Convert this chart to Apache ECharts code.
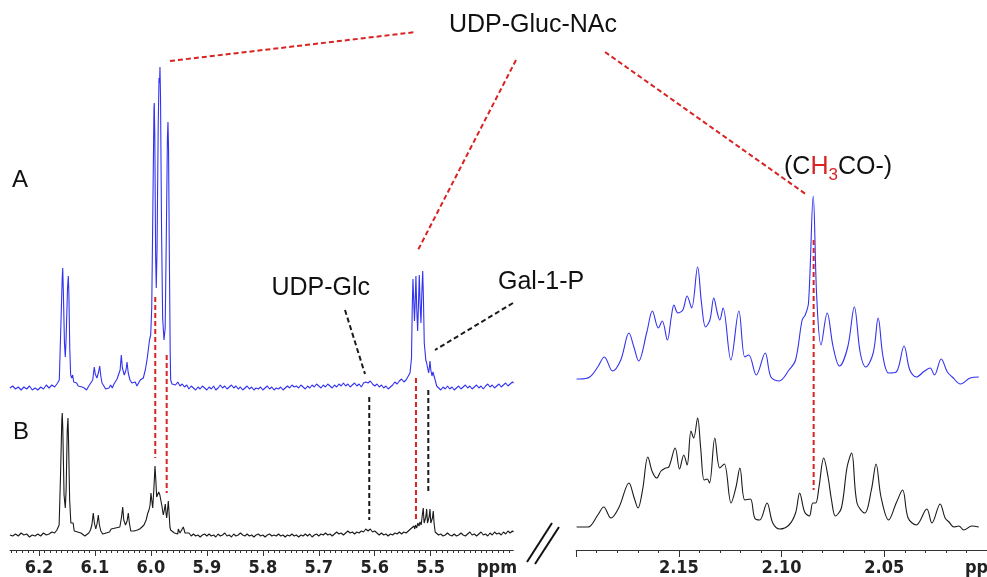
<!DOCTYPE html>
<html>
<head>
<meta charset="utf-8">
<script src="https://cdn.jsdelivr.net/npm/echarts@6/dist/echarts.min.js"></script>
<style>
html,body{margin:0;padding:0;background:#fff;}
#chart{width:987px;height:577px;}
</style>
</head>
<body>
<div id="chart"></div>
<script>
// ---------------- DATA ----------------
const leftTickLabels = [6.2, 6.1, 6.0, 5.9, 5.8, 5.7, 5.6, 5.5];
const rightTickLabels = [2.15, 2.10, 2.05];
const unitLabel = 'ppm';
const traceNames = ['A', 'B'];
const compoundLabels = ['UDP-Gluc-NAc', 'UDP-Glc', 'Gal-1-P'];

// trace A (blue), left window, [ppm, intensity]
const specA_left = [
[6.252,0],[6.247,2],[6.242,-1],[6.237,1],[6.232,-2],[6.227,1],[6.222,-1],[6.217,2],[6.212,-2],[6.207,0],[6.202,-2],[6.197,1],[6.192,-1],[6.187,3],[6.182,0],[6.177,3],[6.172,1],[6.168,4],
[6.1637,8],[6.1610,60],[6.1585,110],[6.1576,120],[6.1566,100],[6.1545,45],[6.1530,31],[6.1515,50],[6.1490,100],[6.1476,112],[6.1466,95],[6.1450,40],[6.1434,13],[6.1415,10],[6.1398,13],[6.1380,6],[6.1350,4],[6.1326,5],[6.1300,2],[6.127,3],[6.123,1],[6.119,0],[6.115,-2],[6.111,2],[6.108,4],
[6.1040,8],[6.1012,21],[6.0995,14],[6.0964,10],[6.0935,16],[6.0915,22],[6.0895,12],[6.0874,5],[6.084,2],[6.081,-1],[6.078,-3],[6.075,0],[6.072,3],[6.069,0],[6.066,4],[6.063,6],[6.0605,9],
[6.0550,18],[6.0529,33],[6.0510,20],[6.0476,13],[6.0445,18],[6.0427,26],[6.0405,15],[6.0374,8],[6.034,5],[6.031,3],[6.028,6],[6.025,2],[6.022,5],[6.019,8],[6.016,6],[6.0136,10],[6.010,18],[6.0070,28],[6.0047,38],[6.0025,48],[6.0004,53],
[5.9985,80],[5.9965,180],[5.9945,280],[5.9940,285],[5.9930,250],[5.9915,130],[5.9904,100],[5.9890,140],[5.9870,260],[5.9855,310],[5.9845,305],[5.9838,321],[5.9828,290],[5.9810,160],[5.9790,70],[5.9766,48],[5.9745,60],[5.9725,150],[5.9705,250],[5.9695,266],[5.9685,240],[5.9670,130],[5.9655,35],[5.9647,8],[5.9623,4],
[5.960,5],[5.956,3],[5.952,6],[5.948,2],[5.944,4],[5.940,1],[5.936,3],[5.932,-1],[5.928,2],[5.924,0],[5.920,-2],[5.916,1],[5.912,-1],[5.908,2],[5.904,0],[5.900,-2],[5.896,1],[5.892,-1],[5.888,2],[5.884,-2],[5.880,0],[5.876,3],[5.872,0],[5.868,2],[5.864,-1],[5.860,1],[5.856,3],[5.852,0],[5.848,2],[5.844,-1],[5.840,1],[5.836,-2],[5.832,0],[5.828,2],[5.824,-1],[5.820,1],[5.816,-2],[5.812,0],[5.808,-1],[5.804,1],[5.800,-2],[5.796,0],[5.792,2],[5.788,-1],[5.784,1],[5.780,-2],[5.776,0],[5.772,-1],[5.768,1],[5.764,-2],[5.760,0],[5.756,2],[5.752,0],[5.748,3],[5.744,1],[5.740,2],[5.736,0],[5.732,3],[5.728,1],[5.724,-1],[5.720,2],[5.716,0],[5.712,3],[5.708,1],[5.704,4],[5.700,2],[5.696,0],[5.692,3],[5.688,1],[5.684,4],[5.680,2],[5.676,0],[5.672,3],[5.668,1],[5.664,4],[5.660,2],[5.656,5],[5.652,2],[5.648,4],[5.644,1],[5.640,3],[5.636,5],[5.632,2],[5.628,4],[5.624,1],[5.620,5],[5.616,6],[5.612,5],[5.608,7],[5.604,4],[5.600,2],[5.596,4],[5.592,1],[5.588,3],[5.584,0],[5.580,2],[5.576,-1],[5.572,1],[5.568,3],[5.564,6],[5.560,4],[5.556,7],[5.552,9],[5.548,6],[5.544,8],[5.540,12],[5.537,15],
[5.5343,30],[5.5330,80],[5.5317,109],[5.5305,90],[5.5290,67],[5.5278,85],[5.5264,112],[5.5250,80],[5.5233,57],[5.5218,85],[5.5204,113],[5.5190,85],[5.5174,65],[5.5158,95],[5.5143,117],[5.5130,90],[5.5115,45],[5.5102,37],[5.5088,28],[5.5072,25],[5.5055,20],[5.5036,15],[5.5025,20],[5.5013,27],[5.4998,18],[5.4977,12],[5.4960,16],[5.4941,18],[5.4920,8],[5.4893,2],
[5.486,0],[5.482,-2],[5.478,1],[5.474,-1],[5.470,2],[5.466,-1],[5.462,1],[5.458,-2],[5.454,0],[5.450,2],[5.446,-1],[5.442,1],[5.438,3],[5.434,0],[5.430,2],[5.426,-1],[5.422,1],[5.418,3],[5.414,0],[5.410,2],[5.406,-1],[5.402,2],[5.398,4],[5.394,1],[5.390,3],[5.386,0],[5.382,2],[5.378,4],[5.374,1],[5.370,3],[5.366,5],[5.362,2],[5.358,4],[5.354,6],[5.352,5]
];

// trace B (black), left window
const specB_left = [
[6.252,0],[6.247,-1],[6.242,1],[6.237,-1],[6.232,2],[6.227,0],[6.222,1],[6.217,-2],[6.212,0],[6.207,-1],[6.202,1],[6.197,-1],[6.192,2],[6.187,0],[6.182,1],[6.177,3],[6.172,2],[6.168,5],
[6.1640,10],[6.1615,60],[6.1592,115],[6.1584,122],[6.1574,105],[6.1552,40],[6.1530,27],[6.1515,45],[6.1495,105],[6.1482,117],[6.1472,95],[6.1452,35],[6.1430,12],[6.1405,14],[6.1390,12],[6.1370,4],[6.134,2],[6.131,3],[6.128,5],[6.125,2],[6.122,1],[6.118,-1],[6.115,0],[6.111,2],[6.108,5],
[6.1055,10],[6.1030,22],[6.1010,12],[6.0985,6],[6.0960,12],[6.0940,20],[6.0920,10],[6.0895,4],[6.086,1],[6.083,-1],[6.080,2],[6.077,0],[6.074,3],[6.071,6],[6.068,4],
[6.0555,8],[6.0525,18],[6.0504,28],[6.0485,15],[6.0454,10],[6.0425,14],[6.0404,22],[6.0385,12],[6.0360,4],[6.033,2],[6.030,4],[6.027,2],[6.024,5],
[6.020,6],[6.016,8],[6.0124,10],[6.0085,15],[6.0055,22],[6.0034,25],[6.0015,30],[5.9999,42],[5.9985,35],[5.9968,27],[5.9948,45],[5.9927,69],[5.9912,55],[5.9897,38],[5.9880,40],[5.9861,43],[5.9840,40],[5.9820,38],[5.9800,28],[5.9779,20],[5.9760,25],[5.9743,31],[5.9730,22],[5.9718,17],[5.9703,25],[5.9689,34],[5.9675,22],[5.9660,8],[5.9647,5],[5.962,3],[5.958,2],[5.955,4],[5.952,1],[5.9511,6],[5.948,2],[5.945,3],[5.9421,8],[5.939,2],[5.936,0],
[5.932,2],[5.928,-1],[5.924,1],[5.920,-1],[5.916,0],[5.912,-2],[5.908,0],[5.904,1],[5.900,-1],[5.896,1],[5.892,-1],[5.888,0],[5.884,-2],[5.880,1],[5.876,-1],[5.872,0],[5.868,2],[5.864,-1],[5.860,0],[5.856,-2],[5.852,1],[5.848,-1],[5.844,0],[5.840,2],[5.836,0],[5.832,-1],[5.828,1],[5.824,-1],[5.820,0],[5.816,-2],[5.812,0],[5.808,1],[5.804,-1],[5.800,0],[5.796,-2],[5.792,0],[5.788,1],[5.784,-1],[5.780,0],[5.776,-1],[5.772,1],[5.768,-1],[5.764,0],[5.760,-2],[5.756,0],[5.752,-1],[5.748,1],[5.744,-1],[5.740,0],[5.736,-2],[5.732,0],[5.728,-1],[5.724,1],[5.720,-1],[5.716,1],[5.712,-2],[5.708,0],[5.704,1],[5.700,-1],[5.696,1],[5.692,0],[5.688,2],[5.684,0],[5.680,1],[5.676,-1],[5.672,1],[5.668,3],[5.664,1],[5.660,2],[5.656,0],[5.652,2],[5.648,4],[5.644,2],[5.640,3],[5.636,1],[5.632,3],[5.628,2],[5.624,4],[5.620,3],[5.616,6],[5.612,4],[5.608,6],[5.604,3],[5.600,4],[5.596,2],[5.592,0],[5.588,2],[5.584,0],[5.580,1],[5.576,-1],[5.572,1],[5.568,0],[5.564,2],[5.560,1],[5.556,3],[5.552,1],[5.548,3],[5.544,2],[5.540,4],[5.536,6],[5.533,5],[5.530,9],[5.5285,6],[5.527,10],[5.525,7],[5.523,12],[5.521,9],[5.519,13],[5.517,10],
[5.5150,20],[5.5133,27],[5.5118,12],[5.5102,10],[5.5087,18],[5.5072,26],[5.5057,12],[5.5043,10],[5.5028,18],[5.5013,26],[5.4998,12],[5.4984,10],[5.4969,17],[5.4954,24],[5.4940,12],[5.4920,3],[5.4893,2],
[5.486,0],[5.482,1],[5.478,-1],[5.474,0],[5.470,2],[5.466,0],[5.462,-1],[5.458,1],[5.454,-1],[5.450,0],[5.446,2],[5.442,0],[5.438,-1],[5.434,1],[5.430,3],[5.426,0],[5.422,1],[5.418,-1],[5.414,1],[5.410,3],[5.406,0],[5.402,1],[5.398,-1],[5.394,2],[5.390,0],[5.386,3],[5.382,1],[5.378,2],[5.374,0],[5.370,3],[5.366,1],[5.362,4],[5.358,2],[5.354,4],[5.352,3]
];

// trace A (blue), right window (acetyl region)
const specA_right = [
[2.1998,9],[2.1982,9],[2.1934,11],[2.1895,21],[2.1863,31],[2.1823,17],[2.1783,28],[2.1743,55],[2.1719,41],[2.1696,27],[2.1656,56],[2.1629,77],[2.1600,60],[2.1581,67],[2.1556,48],[2.1537,71],[2.1524,83],[2.1505,75],[2.1481,78],[2.1460,92],[2.1438,80],[2.1409,121],[2.1390,85],[2.1370,61],[2.1349,68],[2.1330,90],[2.1314,76],[2.1301,68],[2.1285,80],[2.1247,28],[2.1208,77],[2.1179,31],[2.1160,33],[2.1123,13],[2.1080,35],[2.1052,11],[2.1012,7],[2.0964,18],[2.0932,28],[2.0900,68],[2.0885,73],[2.0869,85],[2.0846,192],[2.0829,91],[2.0808,43],[2.0778,75],[2.0749,41],[2.0718,22],[2.0678,41],[2.0646,81],[2.0617,35],[2.0590,21],[2.0554,35],[2.0530,70],[2.0506,31],[2.0479,15],[2.0442,16],[2.0404,42],[2.0376,18],[2.0344,11],[2.0304,17],[2.0277,20],[2.0256,13],[2.0223,29],[2.0193,16],[2.0169,11],[2.0129,4],[2.0082,10],[2.0040,11]
];

// trace B (black), right window
const specB_right = [
[2.1998,8],[2.1982,8],[2.1942,8],[2.1895,20],[2.1866,28],[2.1831,17],[2.1791,28],[2.1743,52],[2.1719,38],[2.1699,27],[2.1677,45],[2.1651,78],[2.1629,63],[2.1608,57],[2.1587,64],[2.1565,67],[2.1549,68],[2.1518,87],[2.1497,66],[2.1476,80],[2.1460,70],[2.1441,104],[2.1428,97],[2.1409,117],[2.1394,87],[2.1377,55],[2.1362,56],[2.1351,52],[2.1325,97],[2.1301,67],[2.1279,71],[2.1246,32],[2.1222,48],[2.1203,67],[2.1179,35],[2.1152,36],[2.1131,17],[2.1107,15],[2.1071,32],[2.1043,12],[2.1009,6],[2.0964,10],[2.0932,22],[2.0912,42],[2.0888,23],[2.0865,19],[2.0848,32],[2.0834,32],[2.0818,48],[2.0795,77],[2.0773,57],[2.0757,35],[2.0738,19],[2.0709,27],[2.0681,68],[2.0659,82],[2.0633,32],[2.0595,22],[2.0563,45],[2.0540,71],[2.0516,38],[2.0479,15],[2.0442,32],[2.0411,45],[2.0384,17],[2.0344,10],[2.0293,26],[2.0268,12],[2.0228,31],[2.0204,17],[2.0185,13],[2.0161,8],[2.0137,9],[2.0113,5],[2.0074,9],[2.0040,8]
];

// ---------------- LAYOUT / STYLE ----------------
const PLOT_H = 550;          // grid height in px, y axis 0..PLOT_H
const OFFSET_A = 162;        // vertical offset of trace A
const OFFSET_B = 15;         // vertical offset of trace B
const BLUE = '#3232f0';
const RED = '#d92323';
const INK = '#1a1a1a';
const tickFont = '"Liberation Sans Narrow","DejaVu Sans Condensed","Liberation Sans",Arial,sans-serif';
const textFont = '"Liberation Sans",Arial,Helvetica,sans-serif';

const LEFT_RANGE = [5.3524, 6.2518];
const RIGHT_RANGE = [2.0, 2.2];

function minorTicks(lo, hi, step) {
  const out = [];
  const n0 = Math.ceil(lo / step - 1e-9), n1 = Math.floor(hi / step + 1e-9);
  for (let n = n0; n <= n1; n++) out.push(+(n * step).toFixed(4));
  return out;
}

// vertical dashed connectors [grid, ppm, yFrom, yTo, color]
const connectors = [
  [0, 5.9922, 253, 92, RED],
  [0, 5.9718, 195, 57, RED],
  [0, 5.6098, 153, 30, INK],
  [0, 5.5263, 172, 28, RED],
  [0, 5.5043, 160, 57, INK],
  [1, 2.0844, 310, 60, RED]
];

const shift = (arr, off) => arr.map(p => [p[0], p[1] + off]);

const chart = echarts.init(document.getElementById('chart'), null, {renderer: 'canvas'});

function xAxisPair(grid, range, majors, fmt, majorLen) {
  const base = {
    type: 'value', gridIndex: grid, inverse: true, min: range[0], max: range[1],
    splitLine: {show: false}, position: 'bottom'
  };
  return [
    Object.assign({}, base, {
      axisLine: {show: true, lineStyle: {color: '#333', width: 1}},
      axisTick: {show: true, customValues: majors, length: majorLen, lineStyle: {color: '#333', width: 1}},
      axisLabel: {show: true, customValues: majors.filter(v => rightTickLabels.includes(v) || leftTickLabels.includes(v)),
        formatter: fmt, margin: 9, color: '#222', fontSize: 18, fontWeight: 'bold', fontFamily: tickFont}
    }),
    Object.assign({}, base, {
      axisLine: {show: false},
      axisTick: {show: true, customValues: minorTicks(range[0], range[1], 0.01), length: 3, lineStyle: {color: '#333', width: 1}},
      axisLabel: {show: false}
    })
  ];
}

const lineSeries = (name, data, grid, color, smooth) => ({
  name, type: 'line', xAxisIndex: grid * 2, yAxisIndex: grid, data,
  symbol: 'none', smooth: smooth, animation: false,
  lineStyle: {color, width: 1.1}, z: 2
});

const series = [
  lineSeries('A', shift(specA_left, OFFSET_A), 0, BLUE, false),
  lineSeries('B', shift(specB_left, OFFSET_B), 0, INK, false),
  lineSeries('A2', shift(specA_right, OFFSET_A), 1, BLUE, 0.35),
  lineSeries('B2', shift(specB_right, OFFSET_B), 1, INK, 0.35)
];
connectors.forEach((c, i) => {
  series.push({
    name: 'conn' + i, type: 'line', xAxisIndex: c[0] * 2, yAxisIndex: c[0],
    data: [[c[1], c[2]], [c[1], c[3]]], symbol: 'none', animation: false, z: 5,
    lineStyle: {color: c[4], width: 2, type: [5, 3]}
  });
});

const dashed = (x1, y1, x2, y2, color) => ({
  type: 'line', shape: {x1, y1, x2, y2}, z: 10,
  style: {stroke: color, lineWidth: 2, lineDash: [5, 3]}
});
const txt = (text, x, y, size, align, extra) => ({
  type: 'text', x, y, z: 10,
  style: Object.assign({text, fill: '#111', font: size + 'px ' + textFont,
    textAlign: align || 'center', textVerticalAlign: 'middle',
    align: align || 'center', verticalAlign: 'middle'}, extra || {})
});

const graphic = [
  dashed(170, 61, 416, 32, RED),
  dashed(516, 60, 418, 250, RED),
  dashed(605, 52, 807, 195, RED),
  dashed(345, 310, 365, 374, INK),
  dashed(513, 303, 435, 350, INK),
  txt(compoundLabels[0], 533, 25, 25),
  txt(compoundLabels[1], 370, 288, 25, 'right'),
  txt(compoundLabels[2], 498, 282, 25, 'left'),
  txt(traceNames[0], 20, 180, 24),
  txt(traceNames[1], 21, 432, 24),
  {
    type: 'text', x: 784, y: 167, z: 10,
    style: {
      text: '(C{h|H}{s|3}CO-)', fill: '#111', font: '25px ' + textFont,
      textAlign: 'left', textVerticalAlign: 'middle', align: 'left', verticalAlign: 'middle',
      lineHeight: 30,
      rich: {
        h: {fill: RED, fontSize: 25, fontFamily: textFont, lineHeight: 30},
        s: {fill: RED, fontSize: 17, fontFamily: textFont, verticalAlign: 'top', lineHeight: 17, padding: [15, 0, 0, 0]}
      }
    }
  },
  {type: 'text', x: 497, y: 568, z: 10, style: {text: unitLabel, fill: '#222', font: 'bold 18px ' + tickFont, textAlign: 'center', textVerticalAlign: 'middle', align: 'center', verticalAlign: 'middle'}},
  {type: 'text', x: 965, y: 568, z: 10, style: {text: unitLabel, fill: '#222', font: 'bold 18px ' + tickFont, textAlign: 'left', textVerticalAlign: 'middle', align: 'left', verticalAlign: 'middle'}},
  {type: 'line', shape: {x1: 527, y1: 562, x2: 552, y2: 523}, z: 10, style: {stroke: '#111', lineWidth: 2}},
  {type: 'line', shape: {x1: 535, y1: 564, x2: 559, y2: 527}, z: 10, style: {stroke: '#111', lineWidth: 2}}
];

const leftMajors = leftTickLabels.slice();
const rightMajors = rightTickLabels.concat([2.2]);

chart.setOption({
  animation: false,
  backgroundColor: '#fff',
  grid: [
    {left: 10, top: 0, width: 503.3, height: PLOT_H},
    {left: 576.2, top: 0, width: 419.2, height: PLOT_H}
  ],
  xAxis: [
    ...xAxisPair(0, LEFT_RANGE, leftMajors, v => v.toFixed(1), 6),
    ...xAxisPair(1, RIGHT_RANGE, rightMajors, v => v.toFixed(2), 7)
  ],
  yAxis: [
    {type: 'value', gridIndex: 0, min: 0, max: PLOT_H, show: false},
    {type: 'value', gridIndex: 1, min: 0, max: PLOT_H, show: false}
  ],
  series,
  graphic
});
</script>
</body>
</html>
